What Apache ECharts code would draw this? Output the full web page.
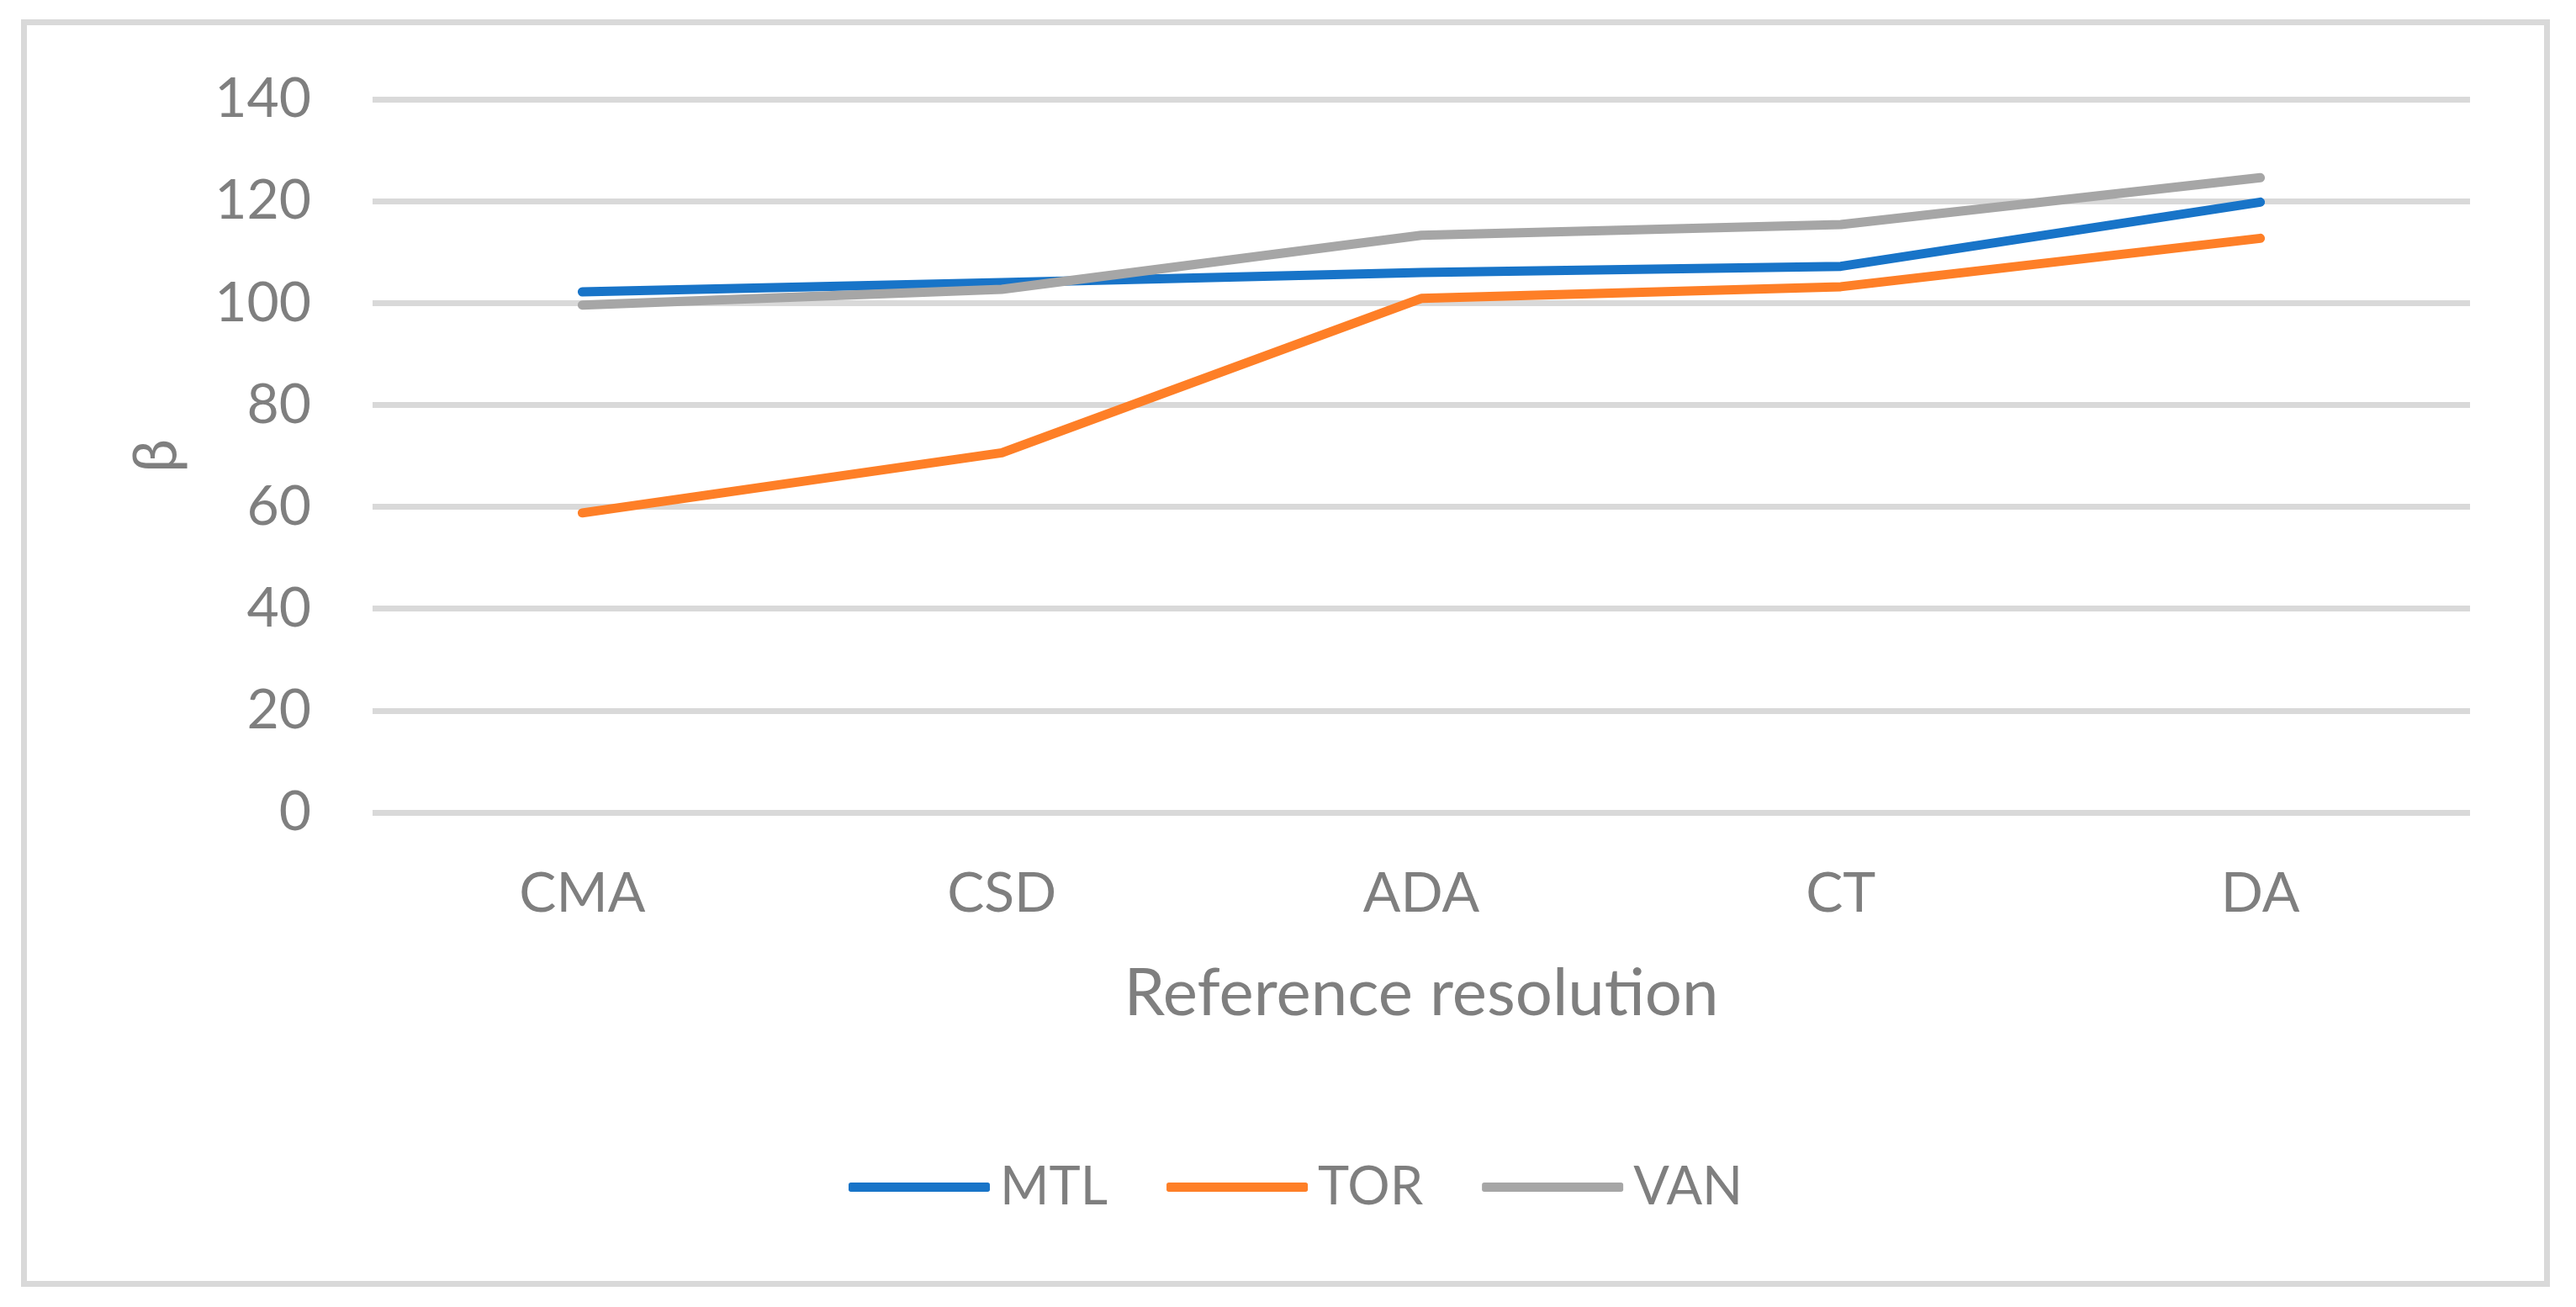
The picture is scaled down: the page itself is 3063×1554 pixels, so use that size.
<!DOCTYPE html>
<html>
<head>
<meta charset="utf-8">
<script src="https://cdn.jsdelivr.net/npm/echarts@6/dist/echarts.min.js"></script>
<style>
html,body{margin:0;padding:0;background:#fff;}
#chart{width:3063px;height:1554px;}
</style>
</head>
<body>
<div id="chart"></div>
<script>
const categories = ['CMA', 'CSD', 'ADA', 'CT', 'DA'];
const mtl = [102.2, 104.0, 106.0, 107.2, 119.8];
const tor = [58.8, 70.6, 100.9, 103.2, 112.7];
const van = [99.6, 102.7, 113.3, 115.4, 124.6];
const yTicks = { min: 0, max: 140, interval: 20 };

const FONT = 'Lato, "Open Sans", sans-serif';
const TXT = '#7f7f7f';

const chart = echarts.init(document.getElementById('chart'), null, { renderer: 'canvas' });

function lineSeries(name, data, color) {
  return {
    name: name,
    type: 'line',
    data: data,
    symbol: 'none',
    smooth: false,
    lineStyle: { color: color, width: 11, cap: 'round', join: 'round' },
    itemStyle: { color: color },
    emphasis: { disabled: true }
  };
}

chart.setOption({
  backgroundColor: '#ffffff',
  animation: false,
  textStyle: { fontFamily: FONT, color: TXT },
  graphic: [{
    type: 'rect',
    shape: { x: 28.5, y: 26.5, width: 3000, height: 1500 },
    style: { fill: 'none', stroke: '#d9d9d9', lineWidth: 7 },
    silent: true
  }],
  grid: { left: 443, right: 126, top: 118, bottom: 588, containLabel: false },
  legend: {
    left: 1004,
    top: 1375,
    itemWidth: 168,
    itemHeight: 11,
    itemGap: 70,
    icon: 'roundRect',
    data: ['MTL', 'TOR', 'VAN'],
    textStyle: { fontFamily: FONT, fontSize: 63, color: TXT, padding: [0, 0, 0, 7] }
  },
  xAxis: {
    type: 'category',
    data: categories,
    boundaryGap: true,
    name: 'Reference resolution',
    nameLocation: 'middle',
    nameGap: 177,
    nameTextStyle: { fontFamily: FONT, fontSize: 78, color: TXT },
    axisLine: { show: false },
    axisTick: { show: false },
    axisLabel: { fontFamily: FONT, fontSize: 66, color: TXT, margin: 64 },
    splitLine: { show: false }
  },
  yAxis: {
    type: 'value',
    min: yTicks.min,
    max: yTicks.max,
    interval: yTicks.interval,
    name: 'β',
    nameLocation: 'middle',
    nameGap: 220,
    nameRotate: 90,
    nameTextStyle: { fontFamily: FONT, fontSize: 72, color: TXT },
    axisLine: { show: false },
    axisTick: { show: false },
    axisLabel: { fontFamily: FONT, fontSize: 66, color: TXT, margin: 73 },
    splitLine: { show: true, lineStyle: { color: '#d9d9d9', width: 7 } }
  },
  series: [
    lineSeries('MTL', mtl, '#1874C8'),
    lineSeries('TOR', tor, '#FE7F27'),
    lineSeries('VAN', van, '#A6A6A6')
  ]
});
</script>
</body>
</html>
